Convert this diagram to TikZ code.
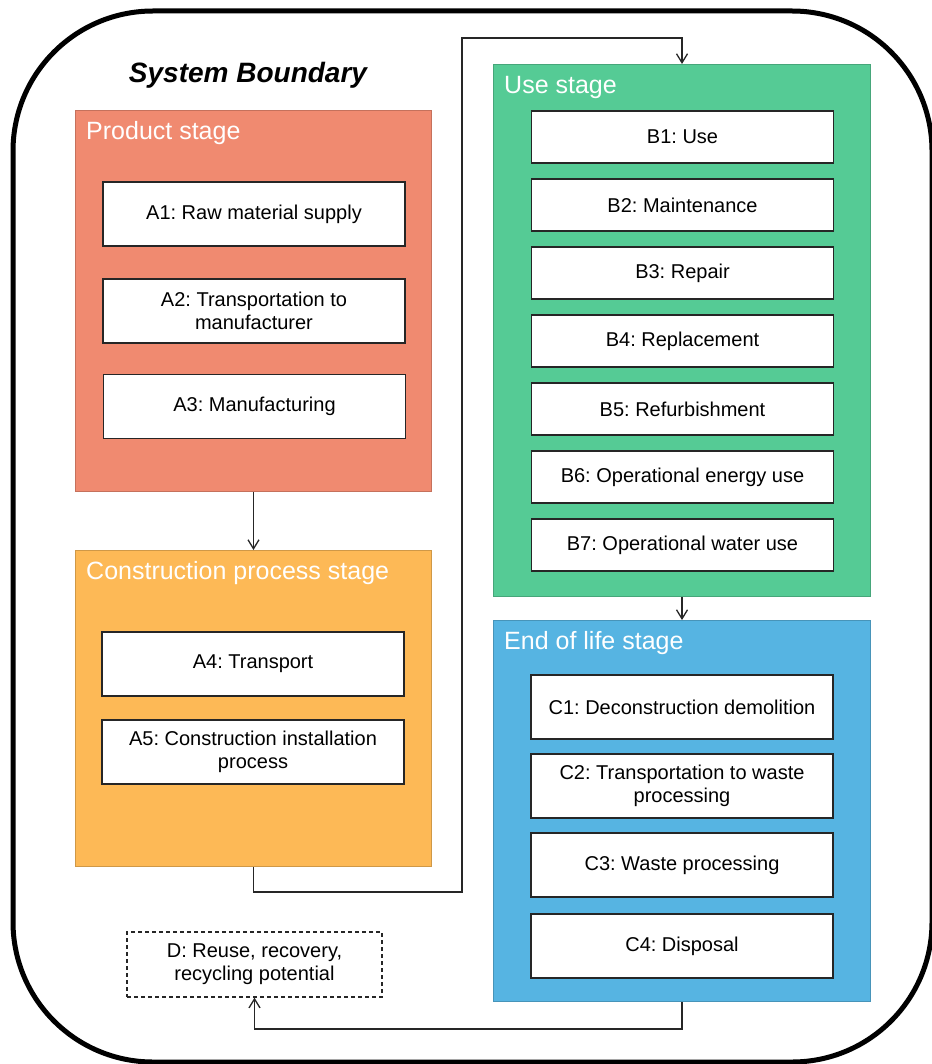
\documentclass[tikz,border=0pt]{standalone}
\usepackage{fontspec}
\setmainfont{Liberation Sans}
\usetikzlibrary{arrows.meta}
\tikzset{>={Straight Barb[length=9pt,width=11pt]}}
\frenchspacing

\definecolor{prodred}{HTML}{F08A70}
\definecolor{constrorange}{HTML}{FDB956}
\definecolor{usegreen}{HTML}{55CB95}
\definecolor{eolblue}{HTML}{56B4E2}

\tikzset{
  stagebox/.style={draw=#1!82!black, fill=#1, line width=1pt, anchor=north west, inner sep=0pt},
  stagetitle/.style={text=white, anchor=base west, inner sep=0pt, font=\fontsize{25}{30}\selectfont},
  stepbox/.style={draw=black!85, fill=white, line width=1.3pt, minimum width=302pt, minimum height=#1, align=center, font=\fontsize{20}{23}\selectfont},
  flow/.style={line width=1.3pt, black!85, ->}
}

\begin{document}
\begin{tikzpicture}[x=1pt,y=-1pt]

  \useasboundingbox (0,0) rectangle (931,1064);

  % system boundary
  \draw[line width=5pt, rounded corners=140pt] (13,11) rectangle (932,1062);
  \node[anchor=base, inner sep=0pt, font=\fontsize{28}{34}\selectfont\bfseries\itshape] (sysb) at (248,83) {System Boundary};

  % stages
  \node[stagebox=prodred, minimum width=356pt, minimum height=381pt] (prod) at (75,110) {};
  \node[stagebox=constrorange, minimum width=356pt, minimum height=316pt] (constr) at (75,550) {};
  \node[stagebox=usegreen, minimum width=377pt, minimum height=532pt] (use) at (493,64) {};
  \node[stagebox=eolblue, minimum width=377pt, minimum height=381pt] (eol) at (493,620) {};

  \node[stagetitle] (prodtitle) at (86,140) {Product stage};
  \node[stagetitle] (constrtitle) at (86,579) {Construction process stage};
  \node[stagetitle] (usetitle) at (504,94) {Use stage};
  \node[stagetitle] (eoltitle) at (504,649) {End of life stage};

  % modules
  \node[stepbox=64pt] (A1) at (254,214) {A1: Raw material supply};
  \node[stepbox=64pt] (A2) at (254,311) {A2: Transportation to\\manufacturer};
  \node[stepbox=64pt] (A3) at (254.5,406.5) {A3: Manufacturing};

  \node[stepbox=64pt] (A4) at (253,664) {A4: Transport};
  \node[stepbox=64pt] (A5) at (253,752) {A5: Construction installation\\process};

  \node[stepbox=52pt] (B1) at (682.5,137) {B1: Use};
  \node[stepbox=52pt] (B2) at (682.5,205) {B2: Maintenance};
  \node[stepbox=52pt] (B3) at (682.5,273) {B3: Repair};
  \node[stepbox=52pt] (B4) at (682.5,341) {B4: Replacement};
  \node[stepbox=52pt] (B5) at (682.5,409) {B5: Refurbishment};
  \node[stepbox=52pt] (B6) at (682.5,477) {B6: Operational energy use};
  \node[stepbox=52pt] (B7) at (682.5,545) {B7: Operational water use};

  \node[stepbox=64pt] (C1) at (682,707) {C1: Deconstruction demolition};
  \node[stepbox=64pt] (C2) at (682,786) {C2: Transportation to waste\\processing};
  \node[stepbox=64pt] (C3) at (682,865) {C3: Waste processing};
  \node[stepbox=64pt] (C4) at (682,946) {C4: Disposal};

  \node[draw=black!85, dash pattern=on 4pt off 3pt, line width=1.3pt, minimum width=255pt, minimum height=65pt, align=center, font=\fontsize{20}{23}\selectfont] (reuse) at (254.5,964.5) {D: Reuse, recovery,\\recycling potential};

  % flows
  \coordinate (loopA) at (462,892);
  \coordinate (loopB) at (462,38);

  \draw[flow] (prod.south) -- (constr.north);
  \draw[flow] (constr.south) |- (loopA) -- (loopB) -| (use.north);
  \draw[flow] (use.south) -- (eol.north);
  \draw[flow] (eol.south) -- ++(0,27) -| (reuse.south);

\end{tikzpicture}
\end{document}
